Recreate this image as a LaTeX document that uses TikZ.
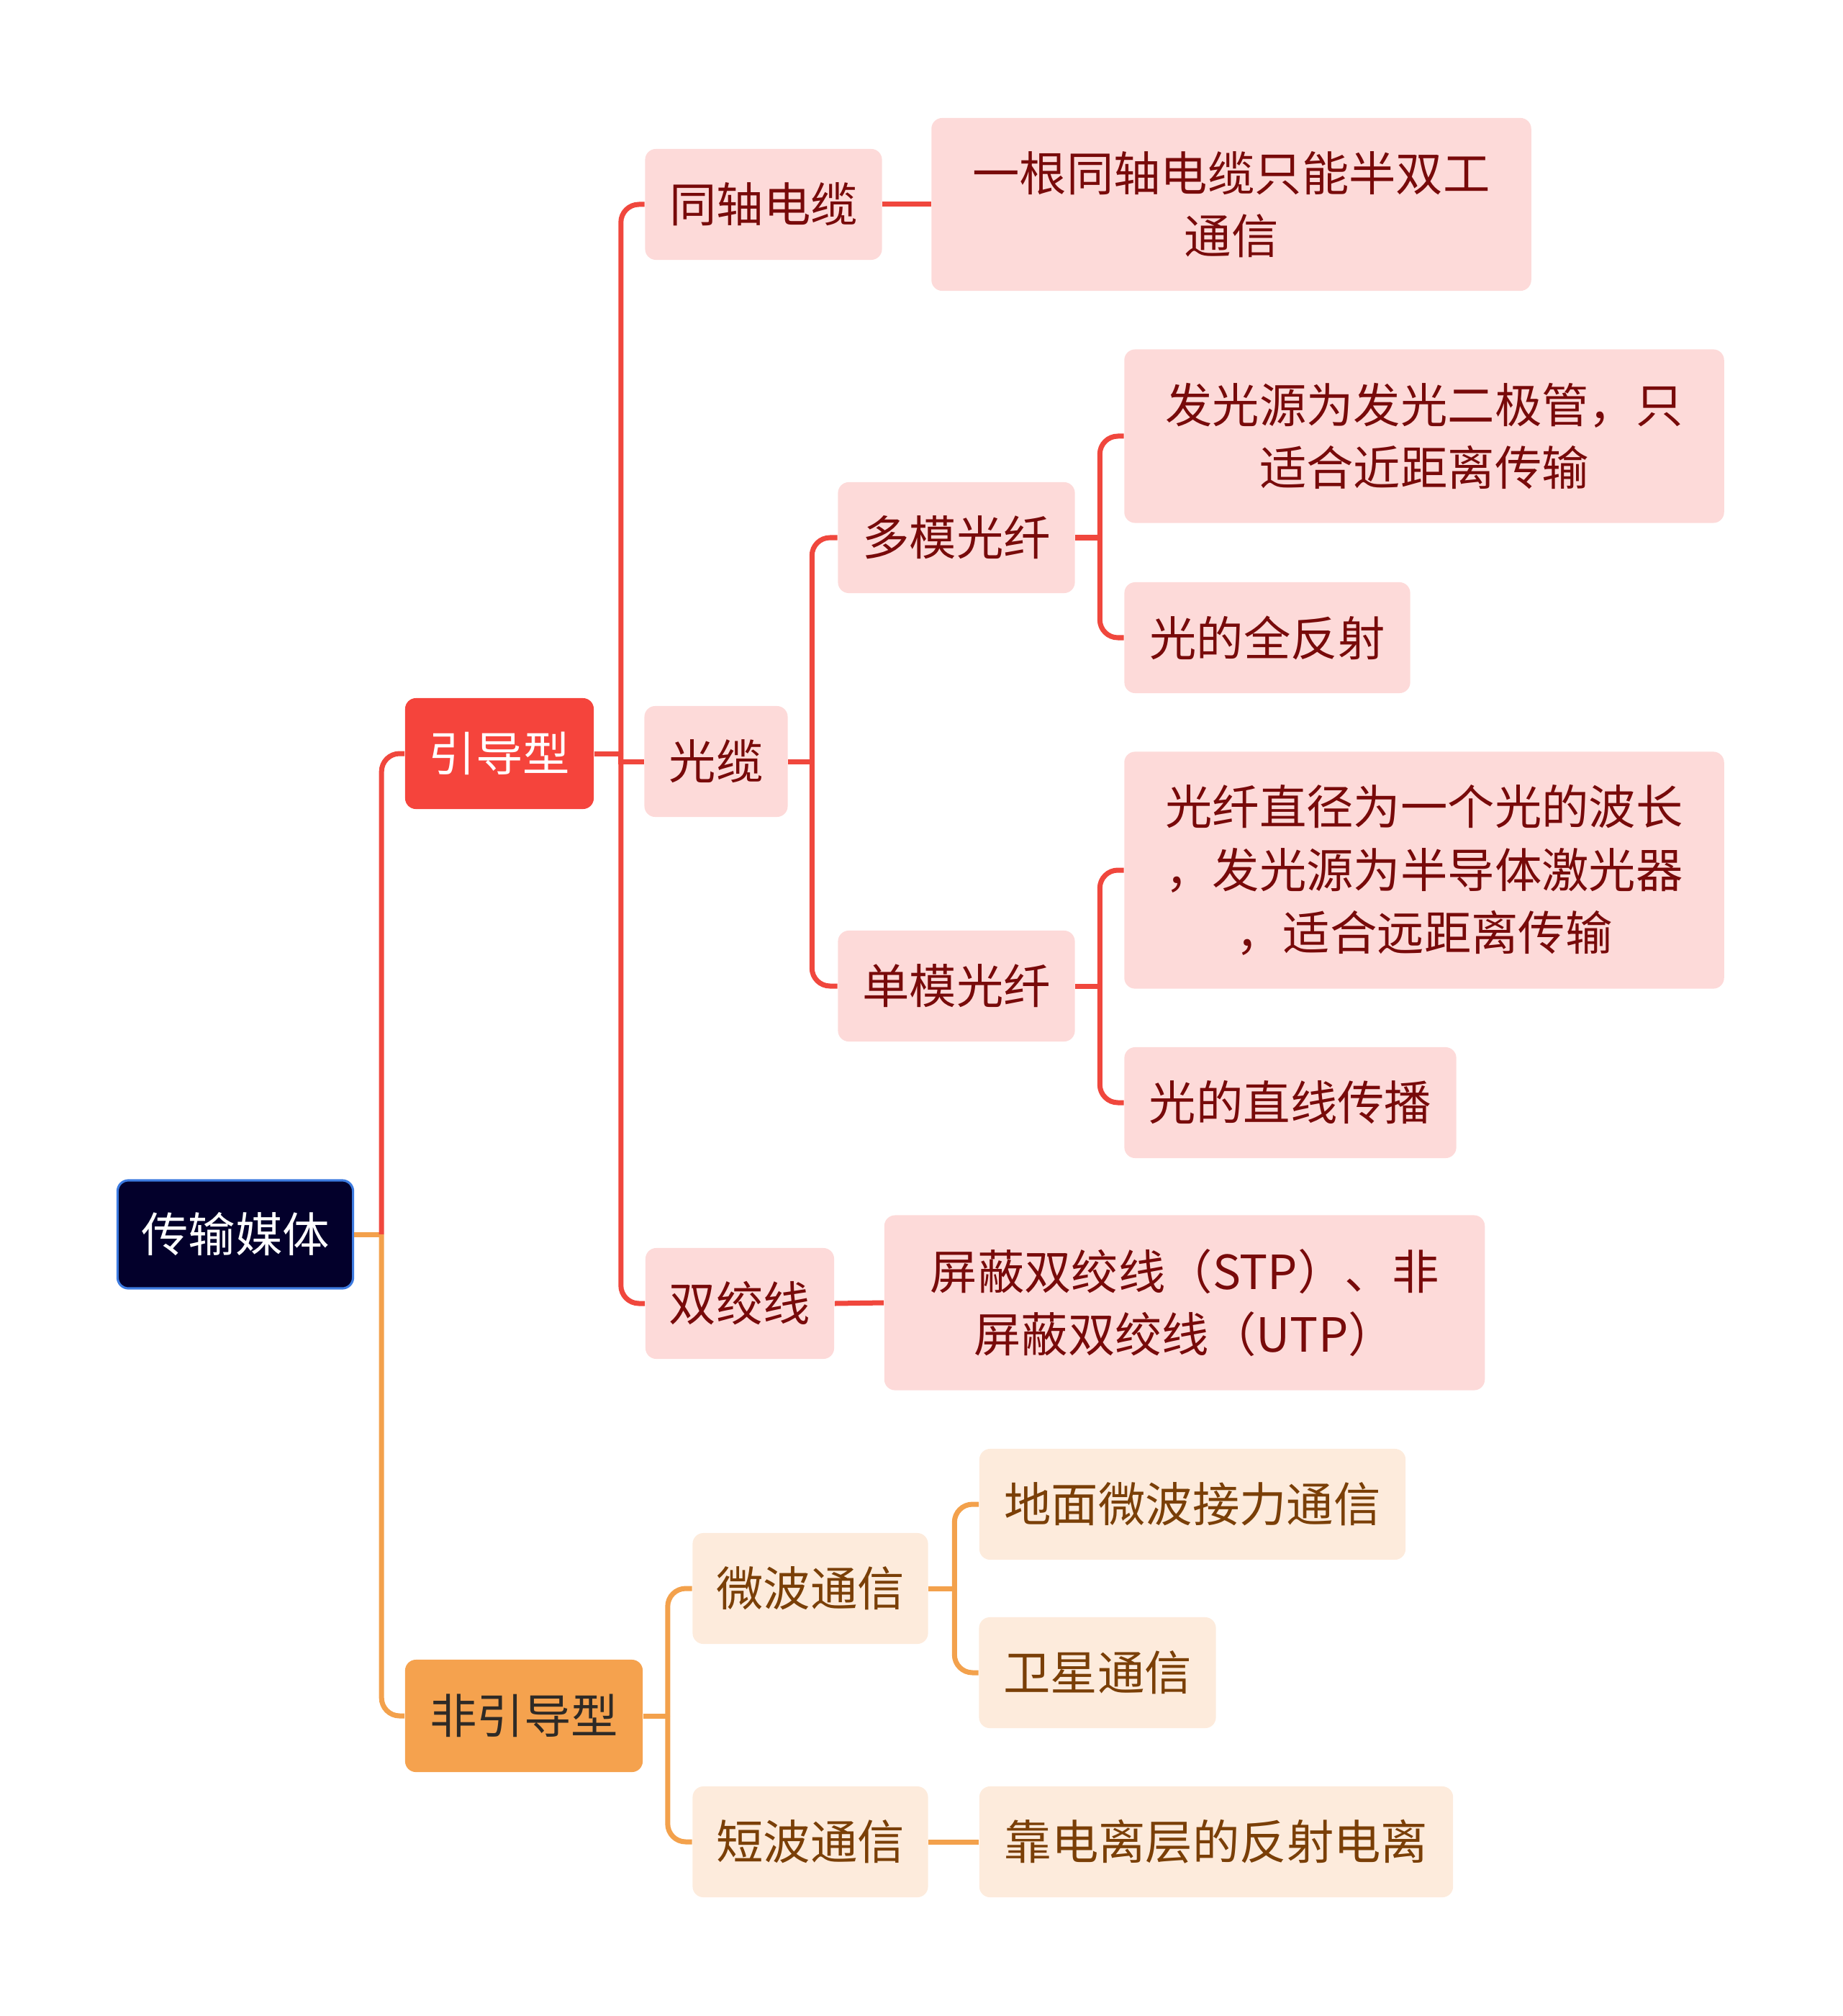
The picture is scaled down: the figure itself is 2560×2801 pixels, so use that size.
\documentclass[tikz,border=0pt]{standalone}
\usepackage{fontspec}
\setmainfont{Noto Sans CJK SC}
\usepackage{xcolor}
\usetikzlibrary{calc}
\definecolor{rootfill}{HTML}{03002B}
\definecolor{rootline}{HTML}{3D7BE0}
\definecolor{redfill}{HTML}{F5443C}
\definecolor{redline}{HTML}{F0473D}
\definecolor{pinkfill}{HTML}{FDDAD9}
\definecolor{pinktext}{HTML}{780A0A}
\definecolor{orafill}{HTML}{F5A24E}
\definecolor{oraline}{HTML}{F3A14C}
\definecolor{oratext}{HTML}{2E2A26}
\definecolor{peachfill}{HTML}{FDEBDC}
\definecolor{peachtext}{HTML}{7A3F07}
\newcommand{\mmfont}{\fontsize{18.6pt}{24.8pt}\selectfont}
\tikzset{
  box/.style     ={rectangle, rounded corners=0.15cm, align=center, inner sep=0pt,
                   minimum height=1.54cm, font=\mmfont},
  rootbox/.style ={box, fill=rootfill, draw=rootline, line width=0.9pt, text=white},
  guide/.style   ={box, fill=redfill, text=white},
  noguide/.style ={box, fill=orafill, text=oratext},
  rsub/.style    ={box, fill=pinkfill, text=pinktext},
  osub/.style    ={box, fill=peachfill, text=peachtext},
  rlink/.style   ={redline, line width=0.07cm, rounded corners=0.25cm},
  olink/.style   ={oraline, line width=0.07cm, rounded corners=0.25cm},
}
\begin{document}
\begin{tikzpicture}[x=0.01cm, y=-0.01cm]
    \useasboundingbox (0,0) rectangle (2560,2801);

    % root and the two main branches
    \node[rootbox, minimum width=3.27cm, minimum height=1.50cm] (root) at (327,1715) {传输媒体};
    \node[guide, minimum width=2.62cm] (yd) at (694,1047) {引导型};
    \node[noguide, minimum width=3.30cm, minimum height=1.56cm] (fyd) at (728,2384) {非引导型};

    % guided media
    \node[rsub, minimum width=3.29cm] (tz) at (1061,284) {同轴电缆};
    \node[rsub, minimum width=8.33cm, minimum height=2.40cm] (tznote) at (1711,284)
        {一根同轴电缆只能半双工\\通信};
    \node[rsub, minimum width=1.99cm] (gl) at (995,1058) {光缆};
    \node[rsub, minimum width=2.62cm] (sjx) at (1028,1811) {双绞线};
    \node[rsub, minimum width=8.34cm, minimum height=2.43cm] (sjxnote) at (1646,1810)
        {屏蔽双绞线（STP）、非\\屏蔽双绞线（UTP）};

    % optical fibre
    \node[rsub, minimum width=3.29cm] (dm) at (1329,747) {多模光纤};
    \node[rsub, minimum width=3.29cm] (sm) at (1329,1370) {单模光纤};
    \node[rsub, minimum width=8.33cm, minimum height=2.41cm] (dm1) at (1979,606)
        {发光源为发光二极管，只\\适合近距离传输};
    \node[rsub, minimum width=3.97cm] (dm2) at (1761,886) {光的全反射};
    \node[rsub, minimum width=8.33cm, minimum height=3.29cm] (sm1) at (1979,1209)
        {光纤直径为一个光的波长\\，发光源为半导体激光器\\，适合远距离传输};
    \node[rsub, minimum width=4.61cm] (sm2) at (1793,1532) {光的直线传播};

    % unguided media
    \node[osub, minimum width=3.27cm] (wb) at (1126,2207) {微波通信};
    \node[osub, minimum width=3.27cm] (db) at (1126,2559) {短波通信};
    \node[osub, minimum width=5.92cm] (wb1) at (1657,2090) {地面微波接力通信};
    \node[osub, minimum width=3.29cm] (wb2) at (1525,2324) {卫星通信};
    \node[osub, minimum width=6.58cm] (db1) at (1690,2559) {靠电离层的反射电离};

    % junction points on the trunks
    \coordinate (j0) at ($(root.east)+(38,0)$);
    \coordinate (j1) at ($(yd.east)+(37,0)$);
    \coordinate (j2) at ($(gl.east)+(33,0)$);
    \coordinate (j3) at ($(dm.east)+(34,0)$);
    \coordinate (j4) at ($(sm.east)+(34,0)$);
    \coordinate (j5) at ($(fyd.east)+(34,0)$);
    \coordinate (j6) at ($(wb.east)+(36,0)$);

    % connectors
    \draw[olink] (root.east) -- (j0);
    \draw[rlink] (j0) |- (yd.west);
    \draw[olink] (j0) |- (fyd.west);

    \draw[rlink] (yd.east) -- (j1);
    \draw[rlink] (j1) |- (tz.west);
    \draw[rlink, sharp corners] (j1) |- (gl.west);
    \draw[rlink] (j1) |- (sjx.west);
    \draw[rlink] (tz.east) -- (tznote.west);
    \draw[rlink] (sjx.east) -- (sjxnote.west);

    \draw[rlink] (gl.east) -- (j2);
    \draw[rlink] (j2) |- (dm.west);
    \draw[rlink] (j2) |- (sm.west);

    \draw[rlink] (dm.east) -- (j3);
    \draw[rlink] (j3) |- (dm1.west);
    \draw[rlink] (j3) |- (dm2.west);
    \draw[rlink] (sm.east) -- (j4);
    \draw[rlink] (j4) |- (sm1.west);
    \draw[rlink] (j4) |- (sm2.west);

    \draw[olink] (fyd.east) -- (j5);
    \draw[olink] (j5) |- (wb.west);
    \draw[olink] (j5) |- (db.west);
    \draw[olink] (wb.east) -- (j6);
    \draw[olink] (j6) |- (wb1.west);
    \draw[olink] (j6) |- (wb2.west);
    \draw[olink] (db.east) -- (db1.west);
\end{tikzpicture}
\end{document}
